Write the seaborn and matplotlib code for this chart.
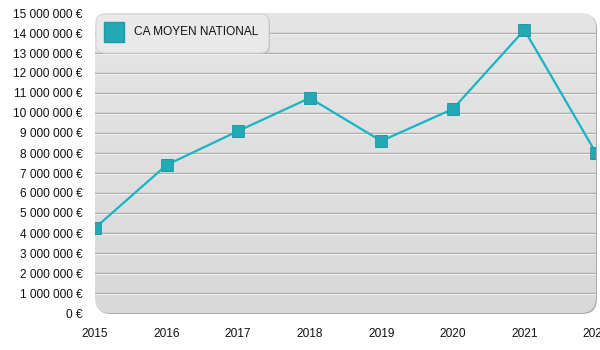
import numpy as np
import pandas as pd
import matplotlib
matplotlib.use("Agg")
import matplotlib.pyplot as plt
import seaborn as sns
from matplotlib.patches import FancyBboxPatch
from matplotlib.lines import Line2D
import matplotlib.transforms as mtransforms

years = [2015, 2016, 2017, 2018, 2019, 2020, 2021, 2022]
ca_moyen = [4250000, 7400000, 9100000, 10750000, 8600000, 10200000, 14150000, 8000000]
series_name = "CA MOYEN NATIONAL"
y_ticks = list(range(0, 15000001, 1000000))

df = pd.DataFrame({"annee": years, "ca": ca_moyen})

sns.set_theme(style="white")
plt.rcParams["font.family"] = ["Liberation Sans", "DejaVu Sans"]

fig = plt.figure(figsize=(6, 3.5), dpi=100)
ax = fig.add_axes([95 / 600, 1 - 313 / 350, 501 / 600, 300 / 350])
ax.set_xlim(2015, 2022)
ax.set_ylim(0, 15000000)

# rounded panel with gradient
ax.patch.set_visible(False)
box_kw = dict(boxstyle="round,pad=0,rounding_size=0.03", mutation_aspect=500 / 300)
panel = FancyBboxPatch((0, 0), 1, 1, transform=ax.transAxes, facecolor="none",
                       edgecolor="none", **box_kw)
ax.add_patch(panel)
# soft shadow to the right / bottom
off = mtransforms.offset_copy(ax.transAxes, fig=fig, x=1.0, y=-1.0, units="dots")
shadow = FancyBboxPatch((0, 0), 1, 1, transform=off, facecolor="#a9a9a9",
                        edgecolor="none", zorder=-1, **box_kw)
shadow.set_clip_on(False)
ax.add_patch(shadow)
grad = np.linspace(0, 1, 256).reshape(-1, 1)
im = ax.imshow(grad, extent=[2015, 2022, 0, 15000000], aspect="auto",
               cmap=matplotlib.colors.LinearSegmentedColormap.from_list("g", ["#d9d9d9", "#e5e5e5"]),
               origin="lower", zorder=0)
im.set_clip_path(panel)

# grid lines: gray with white highlight beneath
for v in y_ticks[1:-1]:
    ax.axhline(v, color="#a8a8a8", lw=1.0, zorder=1)
    ax.axhline(v - 60000, color="#f2f2f2", lw=0.8, zorder=1)

sns.lineplot(data=df, x="annee", y="ca", ax=ax, color="#17b5c4", lw=1.6,
             marker="s", markersize=8.5, markerfacecolor="#22a9b4",
             markeredgecolor="#1d9aa5", markeredgewidth=0.6, zorder=3)
for l in ax.lines:
    if l.get_marker() == "s":
        l.set_clip_path(panel)

ax.set_yticks(y_ticks)
ax.set_yticklabels([("{:,}".format(v).replace(",", " ") + " €") for v in y_ticks])
ax.set_xticks(years)
ax.set_xticklabels([str(y) for y in years])
ax.tick_params(axis="both", length=0, labelsize=8.6, colors="#111111")
ax.tick_params(axis="y", pad=9)
ax.tick_params(axis="x", pad=11)
ax.set_xlabel("")
ax.set_ylabel("")
for s in ax.spines.values():
    s.set_visible(False)

# legend box
leg_kw = dict(boxstyle="round,pad=0,rounding_size=0.014", mutation_aspect=600 / 350)
leg_shadow = FancyBboxPatch((96 / 600, 1 - 53 / 350), 173 / 600, 39 / 350,
                            transform=mtransforms.offset_copy(fig.transFigure, fig=fig, x=1, y=-1, units="dots"),
                            facecolor="#b8b8b8", edgecolor="none", zorder=4, **leg_kw)
fig.patches.append(leg_shadow)
leg_box = FancyBboxPatch((96 / 600, 1 - 53 / 350), 173 / 600, 39 / 350,
                         transform=fig.transFigure, facecolor="#e9e9e9",
                         edgecolor="#d0d0d0", linewidth=0.6, zorder=5, **leg_kw)
fig.patches.append(leg_box)
fig.lines.append(Line2D([114 / 600], [1 - 32 / 350], transform=fig.transFigure,
                        marker="s", markersize=14, markerfacecolor="#22a9b4",
                        markeredgecolor="#1d9aa5", linestyle="none", zorder=6))
fig.text(134 / 600, 1 - 32 / 350, series_name, fontsize=8.6, va="center", ha="left",
         color="#111111", zorder=6)

fig.savefig("out.png", dpi=100)
